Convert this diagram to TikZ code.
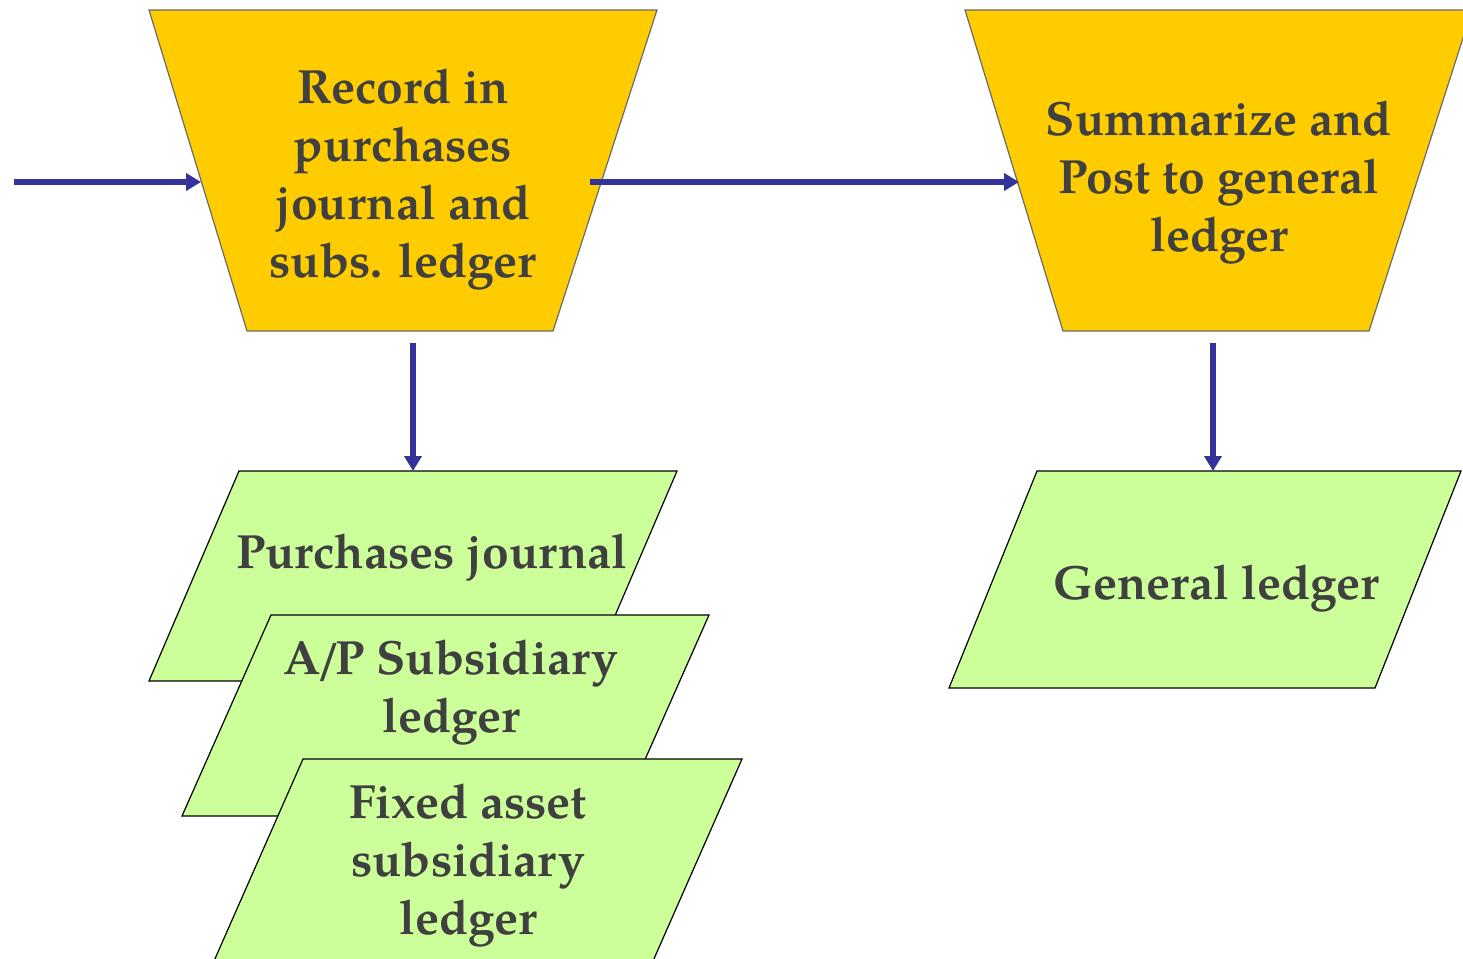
\documentclass[tikz,border=0pt]{standalone}
\usepackage{fontspec}
\setmainfont{TeX Gyre Pagella}
\usetikzlibrary{arrows.meta}
\definecolor{procfill}{HTML}{FFCC00}
\definecolor{procdraw}{HTML}{6B6B6B}
\definecolor{datafill}{HTML}{CCFF99}
\definecolor{arrowblue}{HTML}{333399}
\definecolor{txt}{HTML}{404040}
\begin{document}
\begin{tikzpicture}[x=1pt,y=-1pt,
  proc/.style={fill=procfill,draw=procdraw,line width=1.2pt},
  datab/.style={fill=datafill,draw=black,line width=1.2pt},
  lbl/.style={text=txt,font=\fontsize{48}{58}\selectfont\bfseries,align=center,inner sep=0pt},
  flow/.style={draw=arrowblue,line width=5.5pt,-{Triangle[length=15pt,width=17pt]}}]
\useasboundingbox (0,0) rectangle (1463,958);
\clip (0,0) rectangle (1463,958);
% process shapes
\draw[proc] (149,10) -- (657,10) -- (553,331) -- (247,331) -- cycle;
\draw[proc] (965,10) -- (1472,10) -- (1369,331) -- (1063,331) -- cycle;
% data shapes
\draw[datab] (239,471) -- (677,471) -- (587,681) -- (149,681) -- cycle;
\draw[datab] (271,615) -- (709,615) -- (620,816) -- (182,816) -- cycle;
\draw[datab] (303,759) -- (742,759) -- (653,961) -- (214,961) -- cycle;
\draw[datab] (1037,471) -- (1461,471) -- (1375,688) -- (949,688) -- cycle;
% labels
\node[lbl] (rec) at (403,179.5) {Record in\\purchases\\journal and\\subs. ledger};
\node[lbl] (sum) at (1219,183) {Summarize and\\Post to general\\ledger};
\node[lbl] (pj) at (432,558) {Purchases journal};
\node[lbl] (ap) at (451,693) {A\kern-0.1em/\kern-0.12em P Subsidiary\\ledger};
\node[lbl] (fa) at (468,866) {Fixed asset\\subsidiary\\ledger};
\node[lbl] (gl) at (1216,589) {General ledger};
% connector end points
\coordinate (src) at (14,182);
\coordinate (rec-in) at (201,182);
\coordinate (rec-out) at (590,182);
\coordinate (sum-in) at (1019,182);
\coordinate (rec-bot) at (413,343);
\coordinate (pj-top) at (413,471);
\coordinate (sum-bot) at (1213,343);
\coordinate (gl-top) at (1213,471);
% connectors
\draw[flow] (src) -- (rec-in);
\draw[flow] (rec-out) -- (sum-in);
\draw[flow] (rec-bot) -- (pj-top);
\draw[flow] (sum-bot) -- (gl-top);
\end{tikzpicture}
\end{document}
